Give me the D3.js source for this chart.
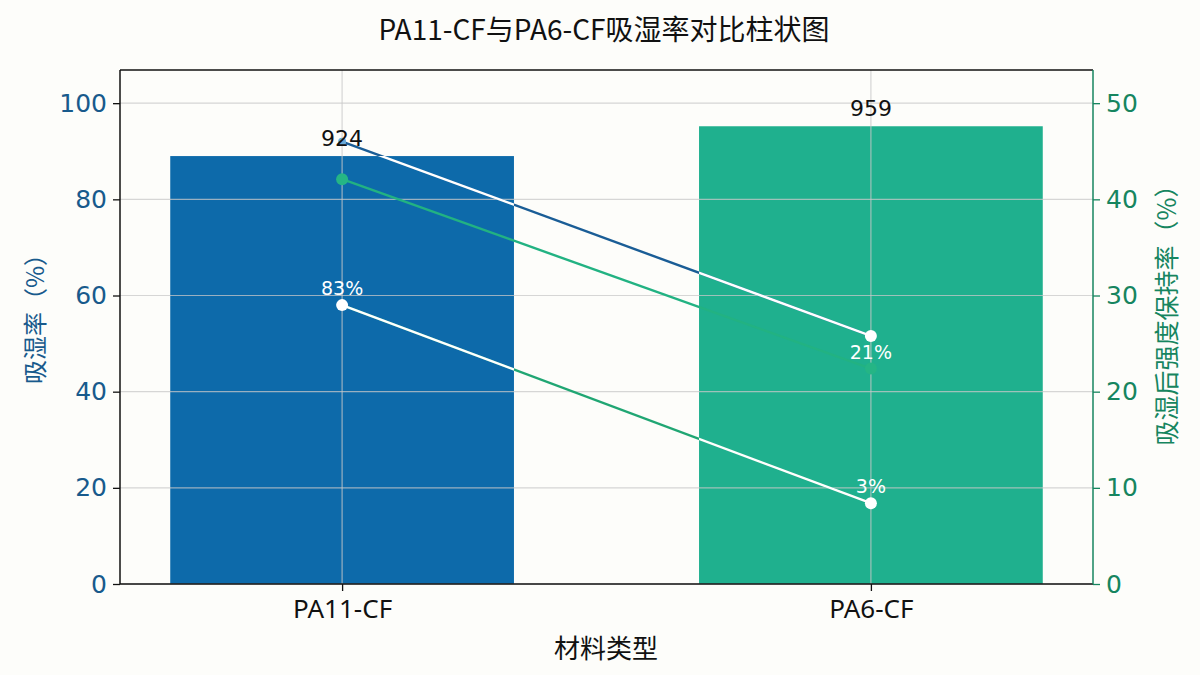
<!DOCTYPE html>
<html><head><meta charset="utf-8">
<script src="https://cdn.jsdelivr.net/npm/d3@7/dist/d3.min.js"></script>
<style>
body{margin:0;background:#fdfdfa;}
svg{display:block;font-family:"DejaVu Sans","Noto Sans CJK SC",sans-serif;}
</style></head>
<body><svg id="chart" width="1200" height="675"></svg>
<script>
const categories = ["PA11-CF", "PA6-CF"];
const absorption = [89.0, 95.2];          // left axis, bars
const barLabels = ["924", "959"];
const leftTicks = [0, 20, 40, 60, 80, 100];
const rightTicks = [0, 10, 20, 30, 40, 50];
const retentionA = [46.0, 25.8];          // right axis, blue/white line
const retentionB = [42.1, 22.4];          // right axis, green line
const retentionC = [29.0, 8.4];           // right axis, white/green line
const pointLabelsB = ["", "21%"];
const pointLabelsC = ["83%", "3%"];

const svg = d3.select("#chart");
const W = 1200, H = 675;
const m = {left: 120, right: 107, top: 70, bottom: 91};
const pw = W - m.left - m.right, ph = H - m.top - m.bottom;
const g = svg.append("g").attr("transform", `translate(${m.left},${m.top})`);

const x = d3.scaleLinear().domain([-0.42, 1.42]).range([0, pw]);
const yL = d3.scaleLinear().domain([0, 106.9]).range([ph, 0]);
const yR = d3.scaleLinear().domain([0, 53.45]).range([ph, 0]);
const barW = x(0.65) - x(0);

const blue = "#0d6aaa", teal = "#1fb08e";
const leftCol = "#185a8c", rightCol = "#16855f";

// title
svg.append("text").attr("x", 604).attr("y", 40).attr("text-anchor", "middle")
  .attr("font-size", 28).attr("fill", "#111").attr("font-family", "Noto Sans CJK SC")
  .text("PA11-CF与PA6-CF吸湿率对比柱状图");

// bars
const barColors = [blue, teal];
g.selectAll("rect.bar").data(absorption).join("rect").attr("class", "bar")
  .attr("x", (d, i) => x(i) - barW / 2).attr("width", barW)
  .attr("y", d => yL(d)).attr("height", d => ph - yL(d))
  .attr("fill", (d, i) => barColors[i]);

// clip path from bars
const clip = svg.append("defs").append("clipPath").attr("id", "barclip");
clip.selectAll("rect").data(absorption).join("rect")
  .attr("x", (d, i) => x(i) - barW / 2).attr("width", barW)
  .attr("y", d => yL(d)).attr("height", d => ph - yL(d));

// grid (on top, faint)
g.selectAll("line.hg").data(leftTicks).join("line")
  .attr("x1", 0).attr("x2", pw).attr("y1", d => yL(d)).attr("y2", d => yL(d))
  .attr("stroke", "#c8c8c8").attr("stroke-opacity", 0.75).attr("stroke-width", 1.2);
g.selectAll("line.vg").data(categories).join("line")
  .attr("x1", (d, i) => x(i)).attr("x2", (d, i) => x(i)).attr("y1", 0).attr("y2", ph)
  .attr("stroke", "#c8c8c8").attr("stroke-opacity", 0.75).attr("stroke-width", 1.2);

// lines
const line = d3.line().x((d, i) => x(i)).y(d => yR(d));
function drawLine(data, outside, inside, w) {
  g.append("path").datum(data).attr("d", line).attr("fill", "none")
    .attr("stroke", outside).attr("stroke-width", w);
  if (inside) {
    g.append("g").attr("clip-path", "url(#barclip)").append("path").datum(data)
      .attr("d", line).attr("fill", "none").attr("stroke", inside).attr("stroke-width", w);
  }
}
drawLine(retentionA, "#1a5d96", "#ffffff", 2.4);
drawLine(retentionB, "#22b282", null, 2.4);
drawLine(retentionC, "#20a673", "#ffffff", 2.4);

// markers
g.append("circle").attr("cx", x(0)).attr("cy", yR(retentionA[0])).attr("r", 4).attr("fill", "#6aaad8");
g.append("circle").attr("cx", x(1)).attr("cy", yR(retentionA[1])).attr("r", 6).attr("fill", "#fff");
g.selectAll("circle.b").data(retentionB).join("circle")
  .attr("cx", (d, i) => x(i)).attr("cy", d => yR(d)).attr("r", 6).attr("fill", "#25b585");
g.selectAll("circle.c").data(retentionC).join("circle")
  .attr("cx", (d, i) => x(i)).attr("cy", d => yR(d)).attr("r", 6).attr("fill", "#fff");

// bar labels
g.selectAll("text.bl").data(absorption).join("text")
  .attr("x", (d, i) => x(i)).attr("y", d => yL(d) - 10).attr("text-anchor", "middle")
  .attr("font-size", 22).attr("fill", "#111").text((d, i) => barLabels[i]);

// point labels
function pointLabels(data, labels) {
  g.selectAll(null).data(data).join("text")
    .attr("x", (d, i) => x(i)).attr("y", d => yR(d) - 10).attr("text-anchor", "middle")
    .attr("font-size", 19).attr("fill", "#fff").text((d, i) => labels[i]);
}
pointLabels(retentionB, pointLabelsB);
pointLabels(retentionC, pointLabelsC);

// frame
g.append("line").attr("x1", 0).attr("x2", pw).attr("y1", 0).attr("y2", 0).attr("stroke", "#111").attr("stroke-width", 1.5);
g.append("line").attr("x1", 0).attr("x2", pw).attr("y1", ph).attr("y2", ph).attr("stroke", "#111").attr("stroke-width", 1.5);
g.append("line").attr("x1", 0).attr("x2", 0).attr("y1", 0).attr("y2", ph).attr("stroke", "#111").attr("stroke-width", 1.5);
g.append("line").attr("x1", pw).attr("x2", pw).attr("y1", 0).attr("y2", ph).attr("stroke", rightCol).attr("stroke-width", 1.5);

// left axis
const la = g.append("g").call(d3.axisLeft(yL).tickValues(leftTicks).tickSize(7).tickPadding(6));
la.select(".domain").remove();
la.selectAll("line").attr("stroke", "#111").attr("stroke-width", 1.3);
la.selectAll("text").attr("font-size", 25).attr("fill", leftCol).attr("font-family", "DejaVu Sans");

// right axis
const ra = g.append("g").attr("transform", `translate(${pw},0)`)
  .call(d3.axisRight(yR).tickValues(rightTicks).tickSize(7).tickPadding(6));
ra.select(".domain").remove();
ra.selectAll("line").attr("stroke", rightCol).attr("stroke-width", 1.3);
ra.selectAll("text").attr("font-size", 25).attr("fill", rightCol).attr("font-family", "DejaVu Sans");

// bottom axis
const ba = g.append("g").attr("transform", `translate(0,${ph})`)
  .call(d3.axisBottom(x).tickValues([0, 1]).tickFormat((d) => categories[d]).tickSize(7).tickPadding(9));
ba.select(".domain").remove();
ba.selectAll("line").attr("stroke", "#111").attr("stroke-width", 1.3);
ba.selectAll("text").attr("font-size", 26).attr("fill", "#111").attr("font-family", "Noto Sans");

// axis titles
svg.append("text").attr("transform", `translate(44,313) rotate(-90)`)
  .attr("text-anchor", "middle").attr("font-size", 24).attr("fill", leftCol)
  .attr("font-family", "Noto Sans CJK SC").text("吸湿率（%）");
svg.append("text").attr("transform", `translate(1176,309) rotate(-90)`)
  .attr("text-anchor", "middle").attr("font-size", 25).attr("fill", rightCol)
  .attr("font-family", "Noto Sans CJK SC").text("吸湿后强度保持率（%）");
svg.append("text").attr("x", 606).attr("y", 658).attr("text-anchor", "middle")
  .attr("font-size", 26).attr("fill", "#111").attr("font-family", "Noto Sans CJK SC").text("材料类型");
</script></body></html>
